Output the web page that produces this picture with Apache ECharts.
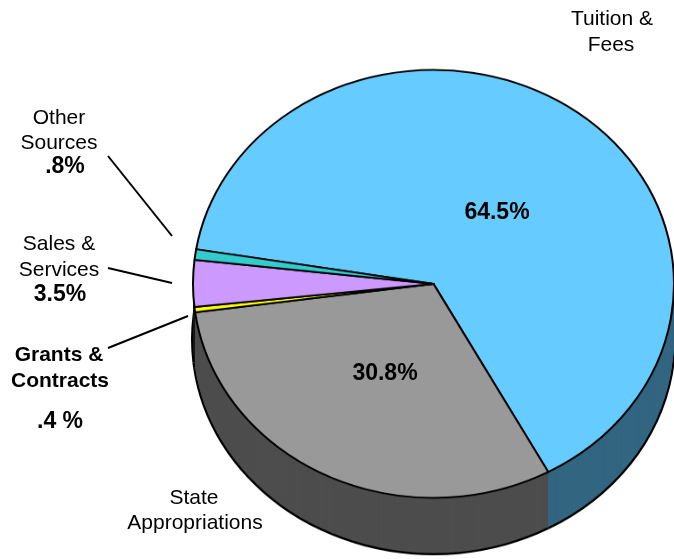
<!DOCTYPE html>
<html>
<head>
<meta charset="utf-8">
<script src="https://cdn.jsdelivr.net/npm/echarts@6/dist/echarts.min.js"></script>
<style>
  html, body { margin: 0; padding: 0; background: #fff; }
  #wrap { position: relative; width: 674px; height: 559px; overflow: hidden; }
  /* pie drawn round, then squashed into the tilted ellipse */
  #pie { position: absolute; left: 0; top: 0; width: 674px; height: 630px;
         transform: scaleY(0.8898); transform-origin: 0 0; }
  #labels { position: absolute; left: 0; top: 0; width: 674px; height: 559px; }
</style>
</head>
<body>
<div id="wrap">
  <div id="pie"></div>
  <div id="labels"></div>
</div>
<script>
// revenue shares (%)
const categories = ['Tuition & Fees', 'State Appropriations', 'Grants & Contracts', 'Sales & Services', 'Other Sources'];
const shares = [64.5, 30.8, 0.4, 3.5, 0.8];
const topColors = ['#66CCFF', '#999999', '#FFFF00', '#CC99FF', '#33CCCC'];
const sideColors = ['#336680', '#4D4D4D', '#1a1a1a', '#1a1a1a', '#1a1a1a'];

const depth = 62;      // thickness of the pie, in unscaled px
const cx = 433.5, cy = 319;
const radius = 240.5;

function pieLayer(offset, colors, border, borderWidth, r) {
  return {
    type: 'pie',
    silent: true,
    animation: false,
    clockwise: true,
    startAngle: 170.7,
    radius: r || radius,
    center: [cx, cy + offset],
    avoidLabelOverlap: false,
    label: { show: false },
    labelLine: { show: false },
    emphasis: { disabled: true },
    data: categories.map((c, i) => ({
      name: c,
      value: shares[i],
      itemStyle: {
        color: colors[i],
        borderColor: border || colors[i],
        borderWidth: borderWidth
      }
    }))
  }
}

let series = []
// black rim under the side
const black = categories.map(() => '#000')
series.push(pieLayer(depth + 0.5, black, null, 0, radius + 2))
// side of the pie, bottom layer first
for (let d = depth; d >= 1; d--) {
  series.push(pieLayer(d, sideColors, null, 0))
}
// top face
series.push(pieLayer(0, topColors, '#000', 2))

const pieChart = echarts.init(document.getElementById('pie'))
pieChart.setOption({ animation: false, series: series })

// text labels and leader lines
const font = '"Liberation Sans", Arial, sans-serif'
function txt(x, y, text, bold, size) {
  return {
    type: 'text', x: x, y: y, silent: true,
    style: {
      text: text, fill: '#000', align: 'center', verticalAlign: 'middle',
      font: (bold ? 'bold ' : '') + (size || 21) + 'px ' + font
    }
  }
}
function line(x1, y1, x2, y2) {
  return {
    type: 'line', silent: true,
    shape: { x1: x1, y1: y1, x2: x2, y2: y2 },
    style: { stroke: '#000', lineWidth: 2 }
  }
}

const labelChart = echarts.init(document.getElementById('labels'))
labelChart.setOption({
  animation: false,
  graphic: [
    txt(612, 19, 'Tuition &'),
    txt(611, 45, 'Fees'),
    txt(497, 213, '64.5%', true, 23),
    txt(385, 374, '30.8%', true, 23),
    txt(194, 498, 'State'),
    txt(195, 523, 'Appropriations'),
    txt(59, 118, 'Other'),
    txt(59, 143, 'Sources'),
    txt(65, 167, '.8%', true, 23),
    txt(59, 244, 'Sales &'),
    txt(59, 270, 'Services'),
    txt(60, 295, '3.5%', true, 23),
    txt(59, 355, 'Grants &', true),
    txt(60, 381, 'Contracts', true),
    txt(60, 422, '.4 %', true, 23),
    line(108, 156, 172, 236),
    line(108, 268, 172, 283),
    line(108, 348, 188, 316)
  ]
})
</script>
</body>
</html>
